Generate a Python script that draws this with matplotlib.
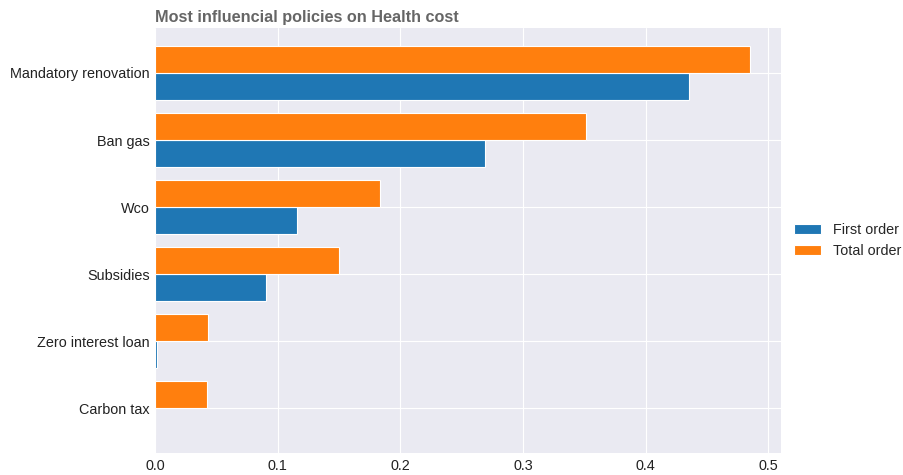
import matplotlib
matplotlib.use('Agg')
import matplotlib.pyplot as plt
import numpy as np

# bottom to top, as barh draws them
policies = ['Carbon tax', 'Zero interest loan', 'Subsidies', 'Wco', 'Ban gas', 'Mandatory renovation']
first_order = [0.0, 0.0014, 0.0905, 0.116, 0.269, 0.435]
total_order = [0.042, 0.043, 0.150, 0.183, 0.351, 0.485]

plt.style.use('seaborn-v0_8-darkgrid')
plt.rcParams['font.family'] = ['Liberation Sans', 'DejaVu Sans']

fig = plt.figure(figsize=(9.04, 4.75), dpi=100)
ax = fig.add_axes([0.1715, 0.046, 0.692, 0.895])

y = np.arange(len(policies))
h = 0.4
ax.barh(y - h / 2, first_order, height=h, color='#1f77b4', edgecolor='white', linewidth=0.8, label='First order')
ax.barh(y + h / 2, total_order, height=h, color='#ff7f0e', edgecolor='white', linewidth=0.8, label='Total order')

ax.set_yticks(y)
ax.set_yticklabels(policies)
ax.set_xlim(0, 0.51)
ax.set_ylim(-0.67, 5.67)
ax.tick_params(axis='both', labelsize=10.4, length=0, pad=4, labelcolor='#222222')

ax.set_title('Most influencial policies on Health cost', loc='left', fontsize=11.7,
             fontweight='bold', color='#666666', pad=4)
ax.legend(loc='center left', bbox_to_anchor=(1.0, 0.5), frameon=False, fontsize=10.4,
          handlelength=1.9)

plt.savefig('out.png', dpi=100)
